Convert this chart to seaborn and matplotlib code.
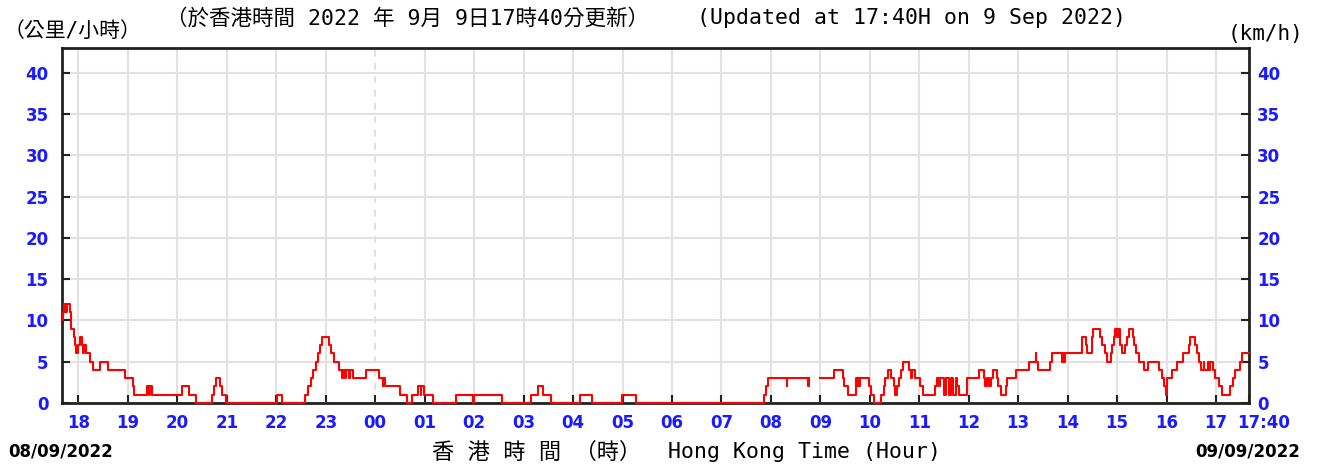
import pandas as pd
import matplotlib.pyplot as plt
import seaborn as sns
from matplotlib.transforms import ScaledTranslation

# Wind speed readings (HKT time where the value changes, km/h).
# None marks the missing data around 09:00.
times = ["17:40", "17:41", "17:42", "17:43", "17:44", "17:45", "17:46", "17:50", "17:51", "17:54",
         "17:56", "17:57", "18:00", "18:02", "18:04", "18:06", "18:07", "18:09", "18:14", "18:18",
         "18:26", "18:36", "18:56", "19:06", "19:07", "19:23", "19:26", "19:27", "19:29", "20:05",
         "20:14", "20:23", "20:42", "20:45", "20:47", "20:52", "20:54", "20:59", "22:01", "22:07",
         "22:35", "22:39", "22:42", "22:45", "22:48", "22:51", "22:53", "22:56", "23:04", "23:06",
         "23:10", "23:16", "23:20", "23:21", "23:23", "23:24", "23:28", "23:29", "23:33", "23:49",
         "00:04", "00:09", "00:10", "00:12", "00:30", "00:38", "00:45", "00:52", "00:55", "00:56",
         "00:59", "01:10", "01:38", "01:59", "02:00", "02:34", "03:09", "03:17", "03:24", "03:33",
         "04:09", "04:23", "04:59", "05:16", "07:52", "07:54", "07:56", "08:19", "08:20", "08:45",
         "08:46", "08:52", "09:00", "09:16", "09:27", "09:29", "09:33", "09:43", "09:45", "09:46",
         "09:47", "09:48", "09:59", "10:02", "10:05", "10:14", "10:17", "10:19", "10:22", "10:26",
         "10:29", "10:31", "10:33", "10:35", "10:38", "10:40", "10:47", "10:50", "10:51", "10:55",
         "11:01", "11:04", "11:19", "11:21", "11:24", "11:25", "11:30", "11:33", "11:36", "11:38",
         "11:41", "11:44", "11:46", "11:48", "11:58", "12:12", "12:18", "12:20", "12:22", "12:25",
         "12:27", "12:29", "12:34", "12:36", "12:39", "12:45", "12:47", "12:57", "13:13", "13:21",
         "13:22", "13:24", "13:39", "13:41", "13:53", "13:54", "13:55", "13:57", "14:17", "14:18",
         "14:22", "14:24", "14:29", "14:30", "14:31", "14:39", "14:42", "14:45", "14:48", "14:52",
         "14:54", "14:56", "14:58", "15:00", "15:01", "15:03", "15:04", "15:06", "15:10", "15:12",
         "15:14", "15:19", "15:21", "15:23", "15:27", "15:33", "15:37", "15:51", "15:54", "15:57",
         "15:59", "16:00", "16:01", "16:07", "16:13", "16:20", "16:27", "16:28", "16:35", "16:37",
         "16:39", "16:42", "16:45", "16:46", "16:50", "16:51", "16:53", "16:56", "16:59", "17:03",
         "17:07", "17:17", "17:20", "17:23", "17:29", "17:32", "17:40"]
speeds = [10, 11, 12, 11, 12, 11, 12, 11, 9, 8,
          7, 6, 7, 8, 7, 6, 7, 6, 5, 4,
          5, 4, 3, 2, 1, 2, 1, 2, 1, 2,
          1, 0, 1, 2, 3, 2, 1, 0, 1, 0,
          1, 2, 3, 4, 5, 6, 7, 8, 7, 6,
          5, 4, 3, 4, 3, 4, 3, 4, 3, 4,
          3, 2, 3, 2, 1, 0, 1, 2, 1, 2,
          1, 0, 1, 0, 1, 0, 1, 2, 1, 0,
          1, 0, 1, 0, 1, 2, 3, 2, 3, 2,
          3, None, 3, 4, 3, 2, 1, 3, 2, 3,
          2, 3, 2, 1, 0, 1, 2, 3, 4, 3,
          2, 1, 2, 3, 4, 5, 4, 3, 4, 3,
          2, 1, 2, 3, 2, 3, 1, 3, 1, 3,
          1, 3, 2, 1, 3, 4, 3, 2, 3, 2,
          3, 4, 3, 2, 1, 2, 3, 4, 5, 6,
          5, 4, 5, 6, 5, 6, 5, 6, 7, 8,
          7, 6, 7, 8, 9, 8, 7, 6, 5, 6,
          7, 8, 9, 8, 9, 8, 7, 6, 7, 8,
          9, 8, 7, 6, 5, 4, 5, 4, 3, 2,
          1, 2, 3, 4, 5, 6, 7, 8, 7, 6,
          5, 4, 5, 4, 5, 4, 5, 4, 3, 2,
          1, 2, 3, 4, 5, 6, 6]

hour_labels = ["18", "19", "20", "21", "22", "23", "00", "01", "02", "03", "04", "05",
               "06", "07", "08", "09", "10", "11", "12", "13", "14", "15", "16", "17", "17:40"]
y_ticks = [0, 5, 10, 15, 20, 25, 30, 35, 40]

start = pd.Timestamp("2022-09-08 17:40")
end = pd.Timestamp("2022-09-09 17:40")


def to_datetimes(hhmm):
    # the list runs over midnight, so move to the next day when the clock goes back
    out = []
    day = start.normalize()
    prev = None
    for t in hhmm:
        ts = day + pd.Timedelta(hours=int(t[:2]), minutes=int(t[3:]))
        if prev is not None and ts < prev:
            day = day + pd.Timedelta(days=1)
            ts = ts + pd.Timedelta(days=1)
        out.append(ts)
        prev = ts
    return out


df = pd.DataFrame({"time": to_datetimes(times), "speed": speeds})
df["speed"] = pd.to_numeric(df["speed"])
df["segment"] = df["speed"].isna().cumsum()
df = df.dropna()

blue = "#1a1aff"
mixed = ["DejaVu Sans Mono", "Noto Sans CJK TC"]

fig = plt.figure(figsize=(13.21, 4.68), dpi=100)
ax = fig.add_axes([62 / 1321, 65 / 468, 1187 / 1321, 355 / 468])

sns.lineplot(data=df, x="time", y="speed", units="segment", estimator=None,
             color="#ff0000", linewidth=1.5, drawstyle="steps-post",
             clip_on=False, zorder=5, ax=ax)

tick_pos = list(pd.date_range("2022-09-08 18:00", periods=24, freq="h")) + [end]
ax.set_xticks(tick_pos)
ax.set_xticklabels(hour_labels)
ax.set_yticks(y_ticks)
ax.set_xlim(start, end)
ax.set_ylim(0, 43)
ax.set_xlabel("")
ax.set_ylabel("")

# grid
ax.set_axisbelow(True)
ax.grid(True, color="#e2e2e2", linewidth=1.5)
midnight = ax.xaxis.get_gridlines()[6]
midnight.set_linestyle((0, (4, 4)))
midnight.set_color("#dddddd")
midnight.set_linewidth(1.2)

# ticks inside, labels blue and bold on both sides
ax.tick_params(axis="x", direction="in", length=6, width=1.5, color="#222222",
               labelcolor=blue, labelsize=12, pad=8)
ax.tick_params(axis="y", direction="in", length=6, width=1.5, color="#222222",
               left=True, right=True, labelleft=True, labelright=True,
               labelcolor=blue, labelsize=12, pad=6)

shift_left = ScaledTranslation(-0.05, 0, fig.dpi_scale_trans)
for tick in ax.yaxis.get_major_ticks():
    tick.label1.set_fontweight("bold")
    tick.label2.set_fontweight("bold")
    tick.label1.set_transform(tick.label1.get_transform() + shift_left)

xticks = ax.xaxis.get_major_ticks()
for tick in xticks:
    tick.label1.set_fontweight("bold")
# the last label (17:40) sits a bit to the right of its tick
last = xticks[-1].label1
last.set_horizontalalignment("left")
last.set_transform(last.get_transform() + ScaledTranslation(-0.12, 0, fig.dpi_scale_trans))

for s in ax.spines.values():
    s.set_linewidth(2)
    s.set_color("#222222")

# texts around the chart
fig.text(4 / 1321, 1 - 31 / 468, "（公里/小時）", family=mixed, fontsize=15, va="center")
fig.text(166 / 1321, 1 - 18 / 468, "（於香港時間 2022 年 9月 9日17時40分更新）",
         family=mixed, fontsize=15.5, va="center")
fig.text(697 / 1321, 1 - 18 / 468, "(Updated at 17:40H on 9 Sep 2022)",
         family=mixed, fontsize=15.5, va="center")
fig.text(1228 / 1321, 1 - 34 / 468, "(km/h)", family=mixed, fontsize=15, va="center")
fig.text(8 / 1321, 1 - 452 / 468, "08/09/2022", fontsize=12, fontweight="bold", va="center")
fig.text(1300 / 1321, 1 - 452 / 468, "09/09/2022", fontsize=12, fontweight="bold",
         va="center", ha="right")
fig.text(432 / 1321, 1 - 452 / 468, "香 港 時 間 （時）", family=mixed, fontsize=16, va="center")
fig.text(668 / 1321, 1 - 452 / 468, "Hong Kong Time (Hour)", family=mixed, fontsize=15.5,
         va="center")

plt.savefig("out.png", dpi=100)
plt.close()
